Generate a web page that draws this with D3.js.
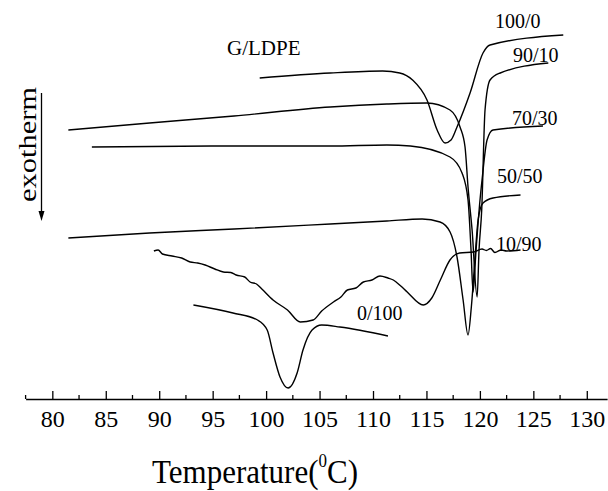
<!DOCTYPE html>
<html>
<head>
<meta charset="utf-8">
<script src="https://cdn.jsdelivr.net/npm/d3@7"></script>
<style>
  body { margin: 0; background: #fff; }
  svg { display: block; }
  text { font-family: "Liberation Serif", "Times New Roman", serif; fill: #000; }
</style>
</head>
<body>
<div id="chart"></div>
<script>
// sample names, in the order of the curves from top to bottom
var samples = ["100/0", "90/10", "70/30", "50/50", "10/90", "0/100"];

// temperature (C) and heat flow (a.u., exotherm down)
var temp100_0 = [99.4, 106.0, 110.9, 112.5, 113.7, 115.05, 116.0, 116.74, 117.3, 117.86, 119.08, 120.29, 120.95, 127.8];
var heat100_0 = [32.2, 32.7, 32.9, 32.7, 32.0, 30.0, 27.0, 25.7, 26.0, 27.3, 30.7, 34.7, 35.5, 36.5];

var temp90_10 = [81.5, 89.1, 97.0, 106.0, 111.3, 115.05, 117.2, 118.14, 118.61, 118.89, 119.27, 119.74, 119.92, 120.17, 120.48, 120.95, 121.9, 126.4];
var heat90_10 = [27.0, 27.7, 28.4, 29.3, 29.6, 29.7, 29.0, 27.3, 25.3, 21.3, 17.0, 10.3, 15.0, 19.0, 29.0, 32.0, 32.7, 33.7];

var temp70_30 = [83.7, 96.0, 106.0, 111.3, 113.5, 117.2, 118.33, 118.89, 119.17, 119.36, 119.64, 120.01, 120.2, 120.67, 121.23, 125.9];
var heat70_30 = [25.3, 25.4, 25.4, 25.5, 25.4, 24.3, 22.7, 20.0, 15.0, 10.8, 15.0, 20.0, 22.0, 26.0, 27.0, 27.4];

var temp50_50 = [81.5, 89.1, 97.0, 106.0, 111.3, 114.6, 116.27, 117.21, 117.86, 118.43, 118.89, 119.2, 119.55, 119.83, 120.29, 121.23, 123.8];
var heat50_50 = [16.2, 16.7, 17.1, 17.6, 17.9, 18.1, 17.8, 16.8, 14.3, 10.0, 6.5, 9.3, 14.3, 18.0, 19.7, 20.2, 20.5];

var temp10_90 = [89.5, 89.9, 90.3, 91.2, 92.1, 92.9, 93.6, 94.3, 95.2, 96.0, 96.7, 97.2, 98.0, 98.5, 99.1, 99.6, 100.65, 102.0, 103.2, 104.4, 105.2, 106.3, 107.0, 107.6, 108.4, 109.1, 109.9, 110.65, 111.4, 111.9, 112.6, 113.2, 114.7, 115.5, 116.3, 117.2, 118.1, 119.4, 120.2, 120.6, 121.0, 121.4, 122.0, 122.5, 123.8];
var heat10_90 = [14.9, 15.0, 14.6, 14.4, 14.2, 13.8, 13.7, 13.5, 13.1, 12.8, 12.75, 12.5, 12.3, 11.8, 11.6, 11.1, 10.0, 9.0, 7.8, 8.0, 8.9, 9.8, 10.3, 11.0, 11.2, 11.8, 12.0, 12.4, 12.2, 12.0, 11.4, 10.8, 9.5, 10.2, 12.0, 14.0, 14.7, 14.8, 15.1, 14.95, 15.15, 14.75, 15.0, 14.9, 15.0];

var temp0_100 = [93.2, 96.9, 99.2, 100.1, 100.65, 101.3, 102.06, 102.9, 103.45, 104.3, 105.2, 106.9, 111.4];
var heat0_100 = [9.5, 8.7, 8.0, 7.0, 4.7, 2.3, 1.2, 2.7, 5.0, 7.0, 7.5, 7.3, 6.4];

var majorTicks = [80, 85, 90, 95, 100, 105, 110, 115, 120, 125, 130];
var minorTicks = [77.5, 82.5, 87.5, 92.5, 97.5, 102.5, 107.5, 112.5, 117.5, 122.5, 127.5];

function init() {
    var w = 608;
    var h = 491;
    var axisY = 399;

    var series = [
        { name: samples[0], t: temp100_0, v: heat100_0 },
        { name: samples[1], t: temp90_10, v: heat90_10 },
        { name: samples[2], t: temp70_30, v: heat70_30 },
        { name: samples[3], t: temp50_50, v: heat50_50 },
        { name: samples[4], t: temp10_90, v: heat10_90 },
        { name: samples[5], t: temp0_100, v: heat0_100 }
    ];
    // where each sample name sits
    var labelPos = [[495, 28], [513, 62], [512, 125], [497, 183], [496, 251], [357, 320]];

    var svg = d3.select("#chart")
        .append("svg")
        .attr("width", w)
        .attr("height", h);

    var x = d3.scaleLinear().domain([77.5, 131.9]).range([25.6, 607.1]);
    var y = d3.scaleLinear().domain([0, 40]).range([400, 0]);

    var line = d3.line()
        .x(function(d) { return x(d[0]); })
        .y(function(d) { return y(d[1]); })
        .curve(d3.curveMonotoneX);

    svg.selectAll("path.curve")
        .data(series)
        .enter()
        .append("path")
        .attr("class", "curve")
        .attr("d", function(s) {
            return line(s.t.map(function(t, i) { return [t, s.v[i]]; }));
        })
        .attr("fill", "none")
        .attr("stroke", "#000")
        .attr("stroke-width", 1.4);

    //Labels
    svg.selectAll("text.sample")
        .data(series)
        .enter()
        .append("text")
        .attr("class", "sample")
        .text(function(d) { return d.name; })
        .attr("x", function(d, i) { return labelPos[i][0]; })
        .attr("y", function(d, i) { return labelPos[i][1]; })
        .style("font-size", "20px");

    svg.append("text")
        .text("G/LDPE")
        .attr("x", 227)
        .attr("y", 55)
        .style("font-size", "21px");

    // x axis, ticks pointing up
    var axis = d3.axisBottom(x)
        .tickValues(majorTicks)
        .tickSizeInner(-8)
        .tickSizeOuter(0)
        .tickPadding(11)
        .tickFormat(d3.format("d"));
    var gx = svg.append("g")
        .attr("transform", "translate(0," + axisY + ")")
        .call(axis);
    gx.select(".domain").attr("stroke-width", 1.4);
    gx.selectAll(".tick line").attr("stroke-width", 1.3);
    gx.selectAll(".tick text")
        .style("font-family", "'Liberation Serif', 'Times New Roman', serif")
        .style("font-size", "24px");

    gx.selectAll("line.minor")
        .data(minorTicks)
        .enter()
        .append("line")
        .attr("class", "minor")
        .attr("x1", function(d) { return x(d); })
        .attr("x2", function(d) { return x(d); })
        .attr("y1", 0)
        .attr("y2", -4)
        .attr("stroke", "#000")
        .attr("stroke-width", 1.3);

    svg.append("g")
        .attr("transform", "translate(255,483) scale(1,1.1)")
        .append("text")
        .attr("text-anchor", "middle")
        .style("font-size", "31px")
        .call(function(t) {
            t.append("tspan").text("Temperature(");
            t.append("tspan").text("0").style("font-size", "17px").attr("dy", -15);
            t.append("tspan").text("C)").attr("dy", 15);
        });

    // exotherm arrow
    svg.append("line")
        .attr("x1", 41.5).attr("x2", 41.5)
        .attr("y1", 93).attr("y2", 212)
        .attr("stroke", "#000")
        .attr("stroke-width", 1.3);
    svg.append("path")
        .attr("d", "M38.5,211 L44.5,211 L41.5,221 Z")
        .attr("fill", "#000");

    svg.append("text")
        .text("exotherm")
        .attr("transform", "translate(35.5,144.5) rotate(-90)")
        .attr("text-anchor", "middle")
        .attr("textLength", 115)
        .attr("lengthAdjust", "spacingAndGlyphs")
        .style("font-size", "26px");
}
window.onload = init;
</script>
</body>
</html>
